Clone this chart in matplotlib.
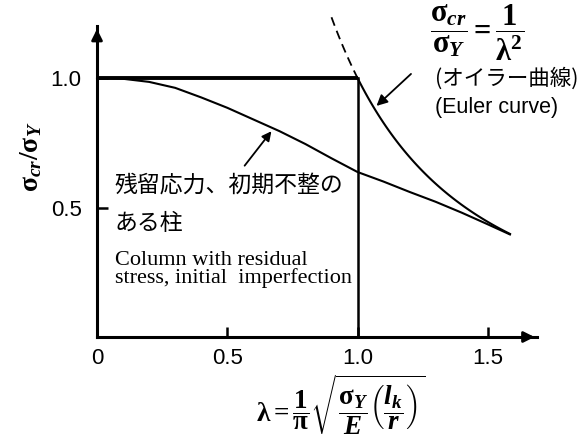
import numpy as np
import matplotlib
matplotlib.use("Agg")
import matplotlib.pyplot as plt

plt.rcParams['mathtext.fontset'] = 'custom'
plt.rcParams['mathtext.rm'] = 'Liberation Serif'
plt.rcParams['mathtext.bf'] = 'Liberation Serif:bold'
plt.rcParams['mathtext.it'] = 'Liberation Serif:italic'
plt.rcParams['mathtext.bfit'] = 'Liberation Serif:bold:italic'
plt.rcParams['mathtext.default'] = 'bf'

# ---- data ----
lam_res = [0.0, 0.1, 0.2, 0.3, 0.4, 0.5, 0.6, 0.7, 0.8, 0.9, 1.0, 1.1, 1.2, 1.3, 1.4, 1.5, 1.585]
sig_res = [1.0, 0.997, 0.985, 0.962, 0.925, 0.885, 0.84, 0.795, 0.745, 0.69, 0.637, 0.60, 0.56, 0.522, 0.48, 0.435, 0.396]
lam_plateau = [0.0, 1.0]
sig_plateau = [1.0, 1.0]
lam_euler = np.linspace(1.0, 1.585, 60)
lam_euler_dash = np.linspace(0.90, 1.0, 20)
xticks = [0, 0.5, 1.0, 1.5]
xticklabels = ['0', '0.5', '1.0', '1.5']
yticks = [0.5, 1.0]
yticklabels = ['0.5', '1.0']

fig = plt.figure(figsize=(5.82, 4.45), dpi=100)
ax = fig.add_axes([0.1667, 0.2427, 0.7565, 0.6984])
ax.set_xlim(0, 1.69)
ax.set_ylim(0, 1.2)

for s in ['top', 'right']:
    ax.spines[s].set_visible(False)
for s in ['left', 'bottom']:
    ax.spines[s].set_linewidth(2.2)

ax.annotate('', xy=(1.0, 0), xytext=(0.96, 0), xycoords='axes fraction',
            arrowprops=dict(arrowstyle='-|>', color='k', lw=2.0, mutation_scale=16))
ax.annotate('', xy=(0, 1.0), xytext=(0, 0.96), xycoords='axes fraction',
            arrowprops=dict(arrowstyle='-|>', color='k', lw=2.0, mutation_scale=16))

ax.set_xticks(xticks)
ax.set_xticklabels(xticklabels, fontfamily='Liberation Sans', fontsize=16)
ax.set_yticks(yticks)
ax.set_yticklabels(yticklabels, fontfamily='Liberation Sans', fontsize=16)
ax.tick_params(axis='x', direction='in', length=7, width=1.8, pad=8)
ax.tick_params(axis='y', direction='in', length=8, width=1.8, pad=11)

# curves
ax.plot(lam_plateau, sig_plateau, color='k', lw=2.8, solid_capstyle='butt', clip_on=False)
ax.plot([1.0, 1.0], [0, 1.0], color='k', lw=1.8, clip_on=False)
ax.plot(lam_euler, 1.0 / lam_euler**2, color='k', lw=1.5, clip_on=False)
ax.plot(lam_euler_dash, 1.0 / lam_euler_dash**2, color='k', lw=1.3, ls=(0, (5, 3)), clip_on=False)
ax.plot(lam_res, sig_res, color='k', lw=1.5, clip_on=False)

# annotations
ax.annotate('', xy=(0.676, 0.803), xytext=(0.56, 0.653),
            arrowprops=dict(arrowstyle='-|>', color='k', lw=1.3, mutation_scale=14))
ax.annotate('', xy=(1.065, 0.885), xytext=(1.213, 1.023),
            arrowprops=dict(arrowstyle='-|>', color='k', lw=1.3, mutation_scale=16), annotation_clip=False)

jp = ['Noto Sans CJK JP', 'DejaVu Sans']
ax.text(0.069, 0.587, '残留応力、初期不整の', fontfamily=jp, fontsize=16.5, va='center', ha='left')
ax.text(0.069, 0.44, 'ある柱', fontfamily=jp, fontsize=16.5, va='center', ha='left')
ax.text(0.069, 0.297, 'Column with residual', fontfamily='Liberation Serif', fontsize=16, va='center', ha='left')
ax.text(0.069, 0.226, 'stress, initial  imperfection', fontfamily='Liberation Serif', fontsize=16, va='center', ha='left')

ax.text(1.297, 0.996, '(オイラー曲線)', fontfamily=jp, fontsize=15.5, va='center', ha='left', clip_on=False)
ax.text(1.297, 0.888, '(Euler curve)', fontfamily='Liberation Sans', fontsize=15.5, va='center', ha='left', clip_on=False)
ax.text(1.459, 1.175, r'$\dfrac{\sigma_{\mathbfit{cr}}}{\sigma_{\mathbfit{Y}}}=\dfrac{1}{\lambda^{2}}$',
        fontsize=22, va='center', ha='center', clip_on=False)

ax.text(0.933, -0.262, r'$\lambda=\dfrac{1}{\pi}\sqrt{\dfrac{\sigma_{\mathbfit{Y}}}{\mathbfit{E}}\left(\dfrac{\mathbfit{l_k}}{\mathbfit{r}}\right)}$',
        fontsize=19.5, va='center', ha='center', clip_on=False)
ax.text(-0.257, 0.695, r'$\sigma_{\mathbfit{cr}}/\sigma_{\mathbfit{Y}}$', fontsize=20, rotation=90,
        va='center', ha='center', clip_on=False)

fig.savefig('out.png', dpi=100)
